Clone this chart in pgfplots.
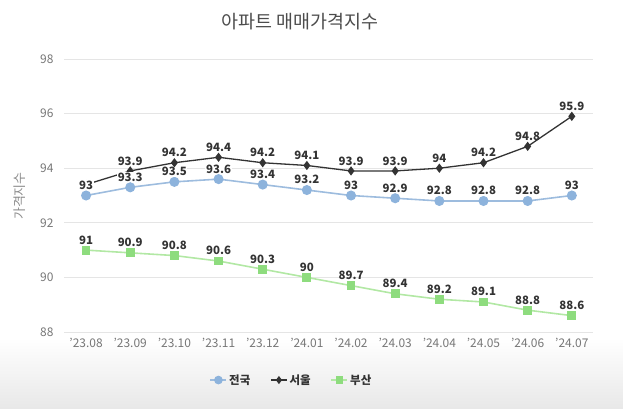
\documentclass[border=0pt]{standalone}
\usepackage{fontspec}
\setmainfont{Noto Sans CJK KR}
\usepackage{pgfplots}
\pgfplotsset{compat=1.18}
\definecolor{cA}{HTML}{8DB3DC}
\definecolor{cAl}{HTML}{9DBCDE}
\definecolor{cB}{HTML}{333333}
\definecolor{cC}{HTML}{8EDC7E}
\definecolor{cCl}{HTML}{B2E8A4}
\definecolor{lab}{HTML}{333333}
\definecolor{tick}{HTML}{777777}
\begin{document}
\begin{tikzpicture}[x=1bp,y=1bp]
\path[use as bounding box] (0,0) rectangle (623,408);
\shade[top color=white, bottom color=black!9] (0,0) rectangle (623,70);
\node[font=\fontsize{18.5}{20}\selectfont, text=black!70] at (300,386) {아파트 매매가격지수};
\node[font=\fontsize{13}{14}\selectfont, text=black!45, rotate=90] at (20,212) {가격지수};
\begin{axis}[
  at={(64bp,76bp)}, anchor=south west, scale only axis,
  width=529bp, height=273bp,
  xmin=-0.5, xmax=11.48, ymin=88, ymax=98,
  ytick={88,90,...,98},
  xtick={0,...,11},
  xticklabels={'23.08,'23.09,'23.10,'23.11,'23.12,'24.01,'24.02,'24.03,'24.04,'24.05,'24.06,'24.07},
  axis line style={draw=none},
  major tick length=0pt,
  ymajorgrids, grid style={color=black!10, line width=0.8bp},
  /pgf/number format/assume math mode=true,
  tick label style={font=\fontsize{12}{13}\selectfont, text=tick},
  xticklabel style={yshift=-3bp},
  yticklabel style={xshift=-7bp},
  clip=false,
  nodes near coords,
  every node near coord/.style={font=\bfseries\fontsize{11.5}{13}\selectfont, text=lab, anchor=south, yshift=4.5bp, inner sep=0.6bp},
  legend style={at={(0.43,-0.176)}, anchor=center, draw=none, fill=none,
    legend columns=3, font=\bfseries\fontsize{11.5}{13}\selectfont, text=lab,
    /tikz/every even column/.append style={column sep=18bp}},
  legend image code/.code={\draw[#1] (0bp,0bp) -- (16bp,0bp); \draw[#1, mark repeat=1] plot coordinates {(8bp,0bp)};},
]
\addlegendimage{color=cAl, line width=1.6bp, mark=*, mark size=3.5bp, mark options={fill=cA, draw=cA}}
\addlegendentry{전국}
\addlegendimage{color=cB, line width=1.3bp, mark=diamond*, mark size=3bp, mark options={fill=cB, draw=cB}}
\addlegendentry{서울}
\addlegendimage{color=cCl, line width=1.6bp, mark=square*, mark size=3bp, mark options={fill=cC, draw=cC}}
\addlegendentry{부산}
\addplot[forget plot, color=cB, line width=1.3bp, mark=diamond*, mark size=3.6bp, mark options={fill=cB, draw=cB}, point meta=explicit symbolic]
  table[meta=l] {
x y l
0 93.4 {}
1 93.9 93.9
2 94.2 94.2
3 94.4 94.4
4 94.2 94.2
5 94.1 94.1
6 93.9 93.9
7 93.9 93.9
8 94 94
9 94.2 94.2
10 94.8 94.8
11 95.9 95.9
};
\addplot[forget plot, color=cAl, line width=1.6bp, mark=*, mark size=4.2bp, mark options={fill=cA, draw=cA}, point meta=explicit symbolic,
  every node near coord/.append style={fill=white}]
  table[meta=l] {
x y l
0 93 93
1 93.3 93.3
2 93.5 93.5
3 93.6 93.6
4 93.4 93.4
5 93.2 93.2
6 93 93
7 92.9 92.9
8 92.8 92.8
9 92.8 92.8
10 92.8 92.8
11 93 93
};
\addplot[forget plot, color=cCl, line width=1.6bp, mark=square*, mark size=3.6bp, mark options={fill=cC, draw=cC}, point meta=explicit symbolic]
  table[meta=l] {
x y l
0 91 91
1 90.9 90.9
2 90.8 90.8
3 90.6 90.6
4 90.3 90.3
5 90 90
6 89.7 89.7
7 89.4 89.4
8 89.2 89.2
9 89.1 89.1
10 88.8 88.8
11 88.6 88.6
};
\end{axis}
\end{tikzpicture}
\end{document}
